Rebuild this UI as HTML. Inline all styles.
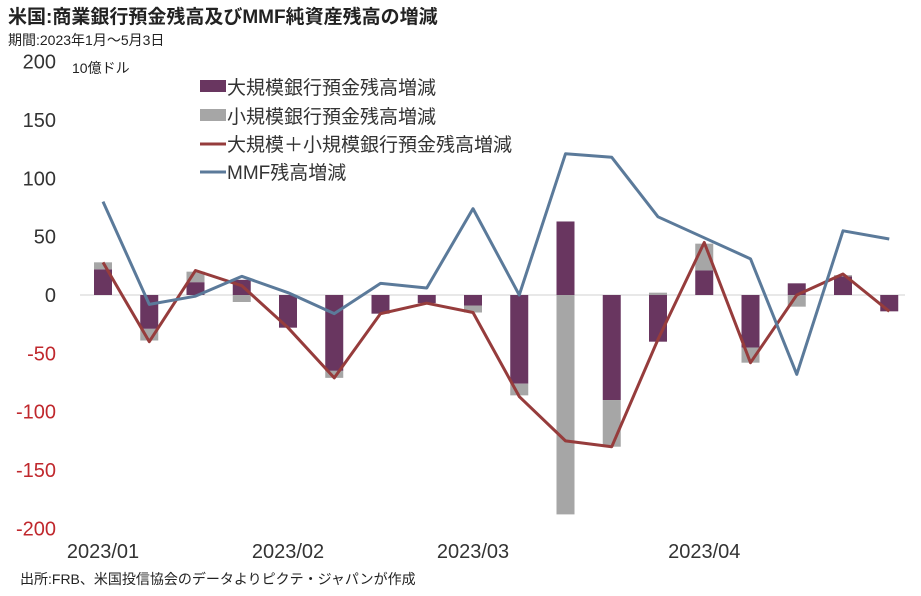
<!DOCTYPE html>
<html><head><meta charset="utf-8"><style>
body{margin:0;background:#fff;width:921px;height:591px;overflow:hidden}
svg text{font-family:"Liberation Sans","Noto Sans CJK JP",sans-serif}
</style></head><body>
<svg id="c" width="921" height="591" xmlns="http://www.w3.org/2000/svg">
<text x="8" y="23" font-size="19" font-weight="bold" fill="#222">米国:商業銀行預金残高及びMMF純資産残高の増減</text>
<text x="8" y="45" font-size="14" fill="#222">期間:2023年1月～5月3日</text>
<text x="72" y="73" font-size="14" fill="#222">10億ドル</text>
<text x="20" y="584" font-size="14" fill="#222">出所:FRB、米国投信協会のデータよりピクテ・ジャパンが作成</text>
<g id="plot"></g>
<g id="legend">
<rect x="200" y="80" width="26" height="12" fill="#693660"/>
<text x="227" y="94" font-size="19" fill="#333">大規模銀行預金残高増減</text>
<rect x="200" y="109" width="26" height="12" fill="#a6a6a6"/>
<text x="227" y="123" font-size="19" fill="#333">小規模銀行預金残高増減</text>
<line x1="200" y1="144" x2="226" y2="144" stroke="#963c3c" stroke-width="3"/>
<text x="227" y="151" font-size="19" fill="#333">大規模＋小規模銀行預金残高増減</text>
<line x1="200" y1="172" x2="226" y2="172" stroke="#5b7a9a" stroke-width="3"/>
<text x="227" y="179" font-size="19" fill="#333">MMF残高増減</text>
</g>
</svg>
<script>
const largeBank=[22,-29,11,13,-28,-65,-16,-7,-9,-76,63,-90,-40,21,-45,10,16,-14];
const smallBank=[6,-10,9,-6,0,-6,0,0,-6,-10,-188,-40,2,23,-13,-10,1,0];
const totalBank=[28,-40,21,8,-28,-71,-16,-7,-15,-87,-125,-130,-38,45,-58,0,18,-14];
const mmf=[80,-8,-1,16,2,-16,10,6,74,0,121,118,67,49,31,-68,55,48];
const yTicks=[200,150,100,50,0,-50,-100,-150,-200];
const xLabels=[{i:0,t:"2023/01"},{i:4,t:"2023/02"},{i:8,t:"2023/03"},{i:13,t:"2023/04"}];
const NS="http://www.w3.org/2000/svg";
const g=document.getElementById('plot');
const y0=295,k=1.167,x0=103,dx=46.25,bw=18;
const Y=v=>y0-v*k, X=i=>x0+i*dx;
function mk(t,a){const e=document.createElementNS(NS,t);for(const n in a)e.setAttribute(n,a[n]);g.appendChild(e);return e;}
yTicks.forEach(v=>{const e=mk('text',{x:56,y:Y(v)+7,'font-size':20,'text-anchor':'end',fill:v<0?'#c0282d':'#333'});e.textContent=v;

});
const z=mk('line',{x1:80,x2:905,y1:Y(0),y2:Y(0),stroke:'#e0e0e0','stroke-width':1.5});


xLabels.forEach(o=>{const e=mk('text',{x:X(o.i),y:558,'font-size':20,'text-anchor':'middle',fill:'#333'});e.textContent=o.t;

});
largeBank.forEach((L,i)=>{
 const S=smallBank[i];
 const r1=mk('rect',{x:X(i)-bw/2,width:bw,y:Math.min(Y(0),Y(L)),height:Math.abs(L)*k,fill:'#693660'});
 
 
 let base=(S>=0)===(L>=0)?L:0;
 const a=Y(base),b=Y(base+S);
 const r2=mk('rect',{x:X(i)-bw/2,width:bw,y:Math.min(a,b),height:Math.abs(S)*k,fill:'#a6a6a6'});
 
 
});
const p1=mk('polyline',{points:totalBank.map((v,i)=>X(i)+','+Y(v)).join(' '),fill:'none',stroke:'#963c3c','stroke-width':3,'stroke-linejoin':'round'});


const p2=mk('polyline',{points:mmf.map((v,i)=>X(i)+','+Y(v)).join(' '),fill:'none',stroke:'#5b7a9a','stroke-width':3,'stroke-linejoin':'round'});


</script>
</body></html>
